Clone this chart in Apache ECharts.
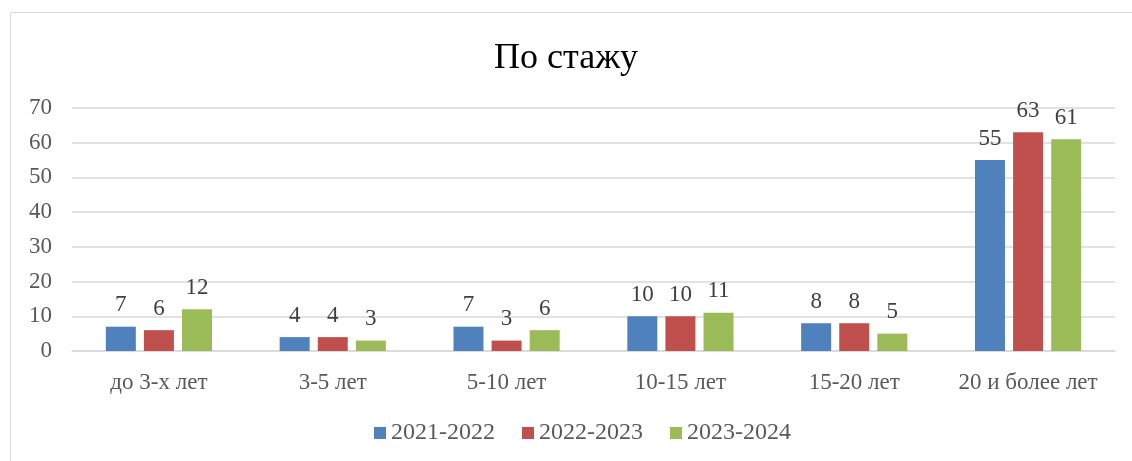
<!DOCTYPE html>
<html>
<head>
<meta charset="utf-8">
<script src="https://cdn.jsdelivr.net/npm/echarts@6/dist/echarts.min.js"></script>
<style>
html,body{margin:0;padding:0;background:#fff;}
#chart{width:1132px;height:461px;}
</style>
</head>
<body>
<div id="chart"></div>
<script>
const categories = ['до 3-х лет', '3-5 лет', '5-10 лет', '10-15 лет', '15-20 лет', '20 и более лет'];
const seriesNames = ['2021-2022', '2022-2023', '2023-2024'];
const values2021 = [7, 4, 7, 10, 8, 55];
const values2022 = [6, 4, 3, 10, 8, 63];
const values2023 = [12, 3, 6, 11, 5, 61];
const colors = ['#4F81BD', '#C0504D', '#9BBB59'];

const font = '"Liberation Serif", "Times New Roman", serif';
const chart = echarts.init(document.getElementById('chart'), null, {renderer: 'canvas'});
const mk = (name, data, color) => ({
  name: name,
  type: 'bar',
  data: data,
  barWidth: 30,
  barGap: '27%',
  itemStyle: {color: color},
  label: {
    show: true,
    position: 'top',
    distance: 10,
    color: '#404040',
    fontFamily: font,
    fontSize: 23
  }
});
chart.setOption({
  animation: false,
  backgroundColor: '#fff',
  title: {
    text: 'По стажу',
    left: 'center',
    top: 36,
    textStyle: {fontFamily: font, fontSize: 36, fontWeight: 'normal', color: '#000'}
  },
  graphic: [{
    type: 'rect',
    shape: {x: 10.5, y: 12.5, width: 1200, height: 600},
    style: {fill: 'none', stroke: '#d9d9d9', lineWidth: 1},
    silent: true
  }],
  legend: {
    bottom: 11,
    left: 369,
    itemWidth: 12,
    itemHeight: 12,
    itemGap: 27,
    icon: 'rect',
    textStyle: {fontFamily: font, fontSize: 24, color: '#595959'},
    data: seriesNames
  },
  grid: {left: 72, right: 17, top: 108, bottom: 110},
  xAxis: {
    type: 'category',
    data: categories,
    axisTick: {show: false},
    axisLine: {lineStyle: {color: '#d9d9d9', width: 1.5}},
    axisLabel: {fontFamily: font, fontSize: 23, color: '#595959', margin: 20, interval: 0}
  },
  yAxis: {
    type: 'value',
    min: 0,
    max: 70,
    interval: 10,
    axisLine: {show: false},
    axisTick: {show: false},
    splitLine: {lineStyle: {color: '#d9d9d9', width: 1.5}},
    axisLabel: {fontFamily: font, fontSize: 23, color: '#595959', margin: 20}
  },
  series: [
    mk(seriesNames[0], values2021, colors[0]),
    mk(seriesNames[1], values2022, colors[1]),
    mk(seriesNames[2], values2023, colors[2])
  ]
});
</script>
</body>
</html>
